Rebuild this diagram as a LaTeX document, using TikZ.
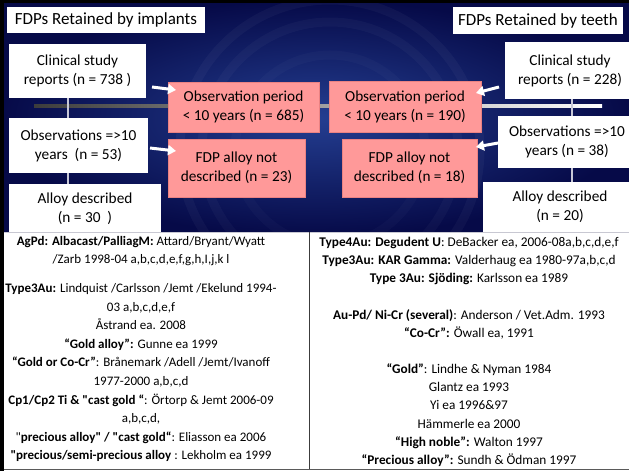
\documentclass[tikz,border=0pt]{standalone}
\usepackage{fontspec}
\setmainfont{Carlito}[Ligatures=TeXOff]
\usetikzlibrary{arrows.meta}
\definecolor{navyout}{RGB}{6,10,72}
\definecolor{navyin}{RGB}{36,62,145}
\definecolor{pinkbox}{RGB}{255,153,153}
\definecolor{pinkedge}{RGB}{235,130,130}
\definecolor{lineleft}{RGB}{60,60,60}
\begin{document}
\begin{tikzpicture}[x=1pt,y=-1pt,
  wbox/.style={fill=white, inner sep=0pt, align=center, font=\fontsize{15.3}{19}\selectfont},
  pbox/.style={fill=pinkbox, draw=pinkedge, line width=0.8pt, inner sep=0pt, align=center, font=\fontsize{15.3}{19}\selectfont},
  tbox/.style={fill=white, inner sep=0pt, font=\fontsize{17}{20}\selectfont},
  conn/.style={draw={rgb,255:red,200;green,200;blue,215}, line width=1.2pt},
  warrow/.style={draw=white, line width=3pt, -{Triangle[length=8pt,width=10pt]}},
  cell/.style={inner sep=0pt, align=center, anchor=north}
]
\useasboundingbox (0,0) rectangle (629,471);
\begin{scope}
\clip (0,0) rectangle (629,471);
% background
\shade[inner color=navyin, outer color=navyout] (0,0) rectangle (629,236);
\foreach \r/\o in {150/0.035,128/0.03,95/0.025}
  \draw[white, opacity=\o, line width=9pt] (330,150) circle (\r);
\fill[black] (0,0) rectangle (629,3);
% horizontal line
\shade[left color=lineleft, right color=white] (34,104.5) rectangle (602,107.5);

% left column
\node[tbox, minimum width=198pt, minimum height=26pt] (t1) at (106,20) {FDPs Retained by implants};
\node[wbox, minimum width=137pt, minimum height=54pt] (c1) at (77.5,71) {Clinical study\\reports (n = 738 )};
\node[pbox, minimum width=151pt, minimum height=50pt] (o1) at (243.5,107) {Observation period\\< 10 years (n = 685)};
\node[wbox, minimum width=139pt, minimum height=55pt] (ob1) at (78.5,145.5) {Observations =>10\\years\ \ (n = 53)};
\node[pbox, minimum width=137pt, minimum height=58pt] (f1) at (236.5,168) {FDP alloy not\\described (n = 23)};
\node[wbox, minimum width=152pt, minimum height=50pt] (a1) at (85,209) {Alloy described\\(n = 30\ \ )};

% right column
\node[tbox, minimum width=170pt, minimum height=27pt] (t2) at (538,20.5) {FDPs Retained by teeth};
\node[wbox, minimum width=130pt, minimum height=57pt] (c2) at (570,70.5) {Clinical study\\reports (n = 228)};
\node[pbox, minimum width=152pt, minimum height=51pt] (o2) at (405,106.5) {Observation period\\< 10 years (n = 190)};
\node[wbox, minimum width=138pt, minimum height=52pt] (ob2) at (567,142) {Observations =>10\\years (n = 38)};
\node[pbox, minimum width=135pt, minimum height=58pt] (f2) at (409.5,168) {FDP alloy not\\described (n = 18)};
\node[wbox, minimum width=154pt, minimum height=50pt] (a2) at (560,207) {Alloy described\\(n = 20)};

% vertical connectors
\coordinate (vl) at (68,0);
\coordinate (vr) at (572,0);
\draw[conn] (c1.south -| vl) -- (ob1.north -| vl);
\draw[conn] (ob1.south -| vl) -- (a1.north -| vl);
\draw[conn] (c2.south -| vr) -- (ob2.north -| vr);
\draw[conn] (ob2.south -| vr) -- (a2.north -| vr);

% arrows
\coordinate (l1s) at (152,87); \coordinate (l1e) at (176,90);
\coordinate (l2s) at (150,148); \coordinate (l2e) at (176,151);
\coordinate (r1s) at (499,87); \coordinate (r1e) at (476,93);
\coordinate (r2s) at (498,143); \coordinate (r2e) at (476,147);
\draw[warrow] (l1s) -- (l1e);
\draw[warrow] (l2s) -- (l2e);
\draw[warrow] (r1s) -- (r1e);
\draw[warrow] (r2s) -- (r2e);

% bottom table
\fill[white] (0,232) rectangle (629,471);
\draw[line width=1pt, draw={rgb,255:red,200;green,200;blue,210}] (0,232) -- (629,232);
\draw[line width=1pt, draw={rgb,255:red,60;green,60;blue,60}] (309.5,232) -- (309.5,469.5);
\draw[line width=1.2pt, draw={rgb,255:red,90;green,90;blue,90}] (0,469.5) -- (629,469.5);
\node[cell, font=\fontsize{13}{18.6}\selectfont] (lt) at (141,236) {%
\textbf{AgPd: Albacast/PalliagM:} Attard/Bryant/Wyatt\\
/Zarb 1998-04 a,b,c,d,e,f,g,h,I,j,k l\\[10pt]
\textbf{Type3Au:} Lindquist /Carlsson /Jemt /Ekelund 1994-\\
03 a,b,c,d,e,f\\
Åstrand ea. 2008\\
\textbf{“Gold alloy”:} Gunne ea 1999\\
\textbf{“Gold or Co-Cr”}: Brånemark /Adell /Jemt/Ivanoff\\
1977-2000 a,b,c,d\\
\textbf{Cp1/Cp2 Ti \& "cast gold “}: Örtorp \& Jemt 2006-09\\
a,b,c,d,\\
"\textbf{precious alloy" / "cast gold“}: Eliasson ea 2006\\
\textbf{"precious/semi-precious alloy} : Lekholm ea 1999};
\node[cell, font=\fontsize{13.3}{18.2}\selectfont] (rt) at (469,237) {%
\textbf{Type4Au: Degudent U}: DeBacker ea, 2006-08a,b,c,d,e,f\\
\textbf{Type3Au: KAR Gamma:} Valderhaug ea 1980-97a,b,c,d\\
\textbf{Type 3Au: Sjöding:} Karlsson ea 1989\\[18pt]
\textbf{Au-Pd/ Ni-Cr (several)}: Anderson / Vet.Adm. 1993\\
\textbf{“Co-Cr”:} Öwall ea, 1991\\[18pt]
\textbf{“Gold”}: Lindhe \& Nyman 1984\\
Glantz ea 1993\\
Yi ea 1996\&97\\
Hämmerle ea 2000\\
\textbf{“High noble”:} Walton 1997\\
\textbf{“Precious alloy”:} Sundh \& Ödman 1997};
\fill[black] (0,0) rectangle (4,471);
\end{scope}
\end{tikzpicture}
\end{document}
